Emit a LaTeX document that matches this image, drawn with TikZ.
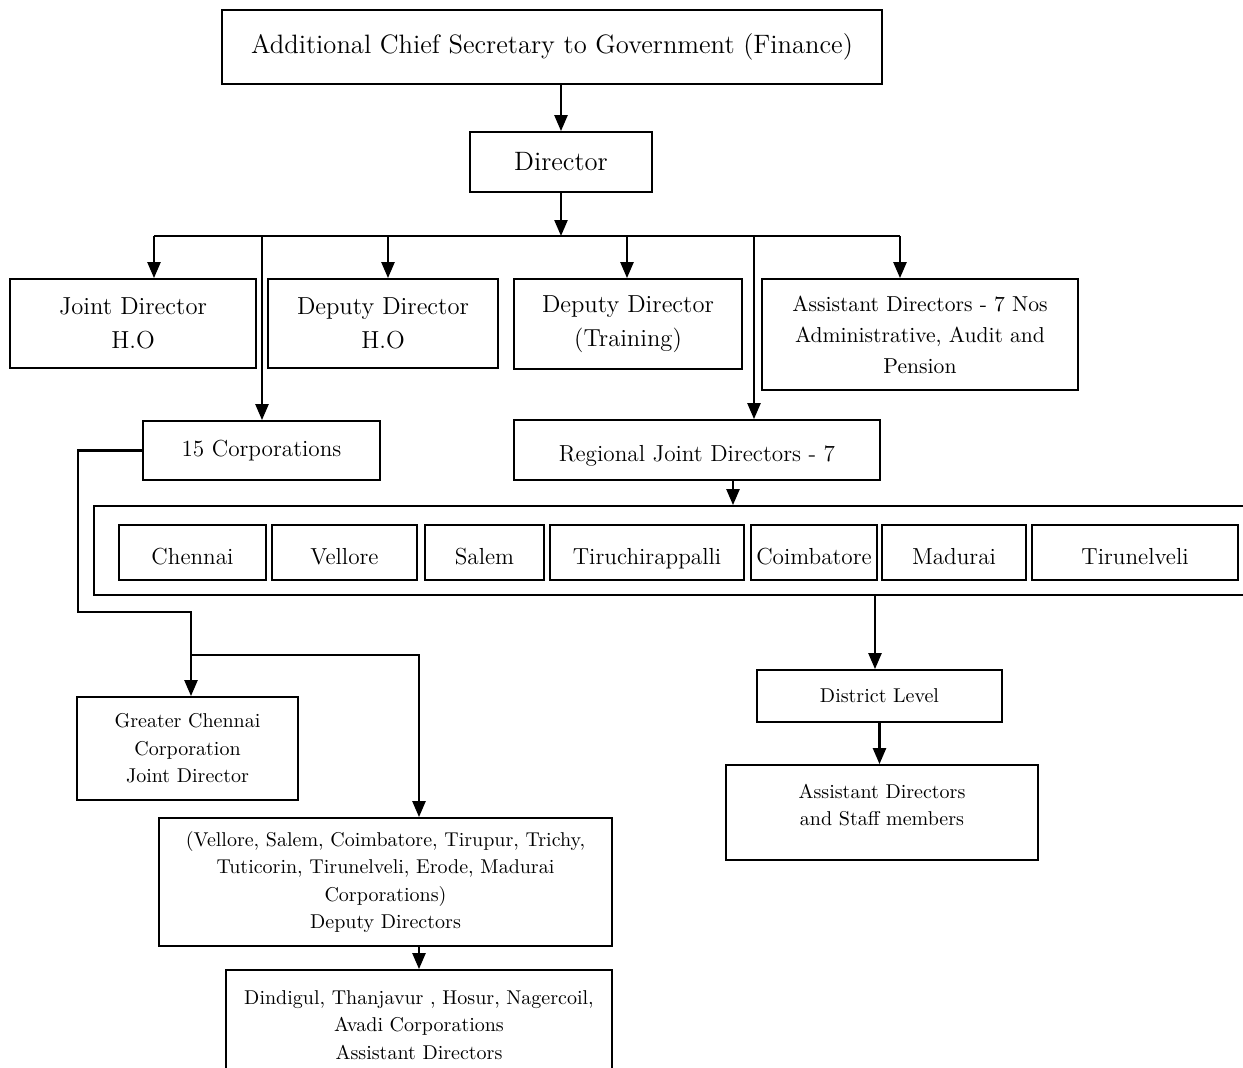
\documentclass[tikz,border=0pt]{standalone}
\usepackage{tikz}
\usetikzlibrary{arrows.meta}

\begin{document}
\begin{tikzpicture}[
    x=0.5pt, y=-0.5pt,
    box/.style={draw, line width=0.9pt, inner sep=2pt, align=center},
    arrow/.style={-{Triangle[length=8pt, width=6.5pt]}, line width=1.2pt},
    link/.style={line width=1.2pt},
    bigfont/.style={font=\fontsize{13.3}{16}\selectfont},
    midfont/.style={font=\fontsize{12.3}{17}\selectfont},
    cityfont/.style={font=\fontsize{11.6}{14}\selectfont},
    regionfont/.style={cityfont, text height=2.9ex, text depth=0.2ex},
    smallfont/.style={font=\fontsize{10}{13.8}\selectfont}
]
\useasboundingbox (0,0) rectangle (1243,1067);
\clip (0,0) rectangle (1243,1067);

% Head office
\node[box, bigfont, minimum width=330pt, minimum height=37pt] (acs) at (552,47) {Additional Chief Secretary to Government (Finance)};
\node[box, bigfont, minimum width=91pt, minimum height=30pt] (dir) at (561,162) {Director};
\draw[arrow] (acs.south -| dir.north) -- (dir.north);

% Second row
\node[box, midfont, minimum width=123pt, minimum height=44.5pt] (jdho) at (133,323.5) {Joint Director\\H.O};
\node[box, midfont, minimum width=115pt, minimum height=44.5pt] (ddho) at (383,323.5) {Deputy Director\\H.O};
\node[box, midfont, minimum width=114pt, minimum height=45pt] (ddtr) at (628,324) {Deputy Director\\(Training)};
\node[box, font=\fontsize{10.8}{15.5}\selectfont, minimum width=158pt, minimum height=55.5pt] (adir) at (920,334.5) {Assistant Directors - 7 Nos\\Administrative, Audit and\\Pension};
\node[box, cityfont, minimum width=118.5pt, minimum height=29.5pt] (corp) at (261.5,450.5) {15 Corporations};
\node[box, regionfont, minimum width=183pt, minimum height=30pt] (rjd) at (697,450) {Regional Joint Directors - 7};

% Bus below the director
\coordinate (bus) at (561,236);
\coordinate (t1) at (154,236);
\coordinate (t2) at (262,236);
\coordinate (t3) at (388,236);
\coordinate (t4) at (627,236);
\coordinate (t5) at (754,236);
\coordinate (t6) at (900,236);
\draw[arrow] (dir.south) -- (dir.south |- bus);
\draw[link] (t1) -- (t6);
\draw[arrow] (t1) -- (t1 |- jdho.north);
\draw[arrow] (t2) -- (t2 |- corp.north);
\draw[arrow] (t3) -- (t3 |- ddho.north);
\draw[arrow] (t4) -- (t4 |- ddtr.north);
\draw[arrow] (t5) -- (t5 |- rjd.north);
\draw[arrow] (t6) -- (t6 |- adir.north);

% Regions
\node[box, minimum width=583pt, minimum height=44.5pt] (regions) at (677,550.5) {};
\foreach \name/\cx/\w/\txt in {chn/192.5/73.5/Chennai, vel/344.5/72.5/Vellore, sal/484.5/59.5/Salem, tri/647/97/Tiruchirappalli, cbe/814/63/Coimbatore, mdu/954/72/Madurai, tvl/1135/103/Tirunelveli}
  \node[box, regionfont, minimum width=\w pt, minimum height=27.5pt] (\name) at (\cx,552.5) {\txt};
\coordinate (rdrop) at (733,480);
\draw[arrow] (rdrop |- rjd.south) -- (rdrop |- regions.north);

% District level
\node[box, smallfont, minimum width=122.5pt, minimum height=26pt] (district) at (879.5,696) {District Level};
\node[box, smallfont, minimum width=156pt, minimum height=47.5pt] (adstaff) at (882,812.5) {Assistant Directors\\and Staff members\\[-6pt]\mbox{}};
\coordinate (ddrop) at (875,600);
\draw[arrow] (ddrop |- regions.south) -- (ddrop |- district.north);
\draw[arrow] (district.south) -- (district.south |- adstaff.north);

% Corporations
\node[box, smallfont, minimum width=110.5pt, minimum height=51.5pt] (gcc) at (187.5,748.5) {Greater Chennai\\Corporation\\Joint Director};
\node[box, smallfont, minimum width=226.5pt, minimum height=64pt] (ddcorp) at (385.5,882) {(Vellore, Salem, Coimbatore, Tirupur, Trichy,\\Tuticorin, Tirunelveli, Erode, Madurai\\Corporations)\\Deputy Directors};
\node[box, smallfont, minimum width=193pt, minimum height=55pt] (adcorp) at (419,1025) {Dindigul, Thanjavur , Hosur, Nagercoil,\\Avadi Corporations\\Assistant Directors};
\coordinate (cbend) at (78,612);
\coordinate (csplit) at (191,655);
\coordinate (cright) at (419,655);
\draw[link] (corp.west) -| (cbend) -| (csplit);
\draw[arrow] (csplit) -- (csplit |- gcc.north);
\draw[arrow] (csplit) -- (cright) -- (cright |- ddcorp.north);
\draw[arrow] (adcorp.north |- ddcorp.south) -- (adcorp.north);

\end{tikzpicture}
\end{document}
